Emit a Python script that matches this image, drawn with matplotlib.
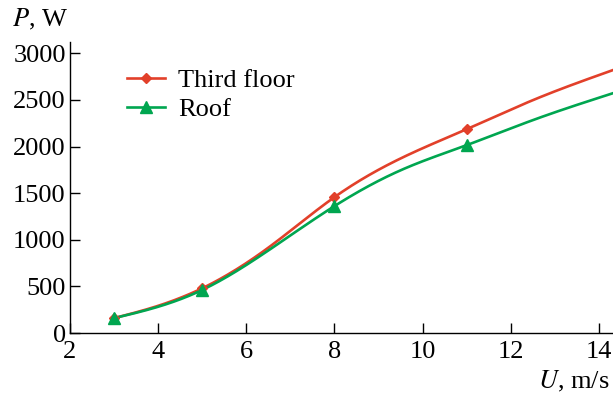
import numpy as np
import matplotlib
matplotlib.use("Agg")
import matplotlib.pyplot as plt

# data
u_marks = [3, 5, 8, 11]
p_third_marks = [160, 480, 1457, 2186]
p_roof_marks = [160, 462, 1361, 2015]

# points (the curves go on past the last marker)
u_curve = [3, 4, 5, 6.5, 8, 9.5, 11, 12.5, 14.32]
p_third_curve = [160, 292, 480, 915, 1457, 1872, 2186, 2497, 2820]
p_roof_curve = [160, 282, 462, 885, 1361, 1745, 2015, 2283, 2572]

x_ticks = [2, 4, 6, 8, 10, 12, 14]
y_ticks = [0, 500, 1000, 1500, 2000, 2500, 3000]


def spline(x, y, xs):
    # natural cubic spline, just for drawing a smooth line through the points
    x = np.asarray(x, float)
    y = np.asarray(y, float)
    n = len(x)
    h = np.diff(x)
    A = np.zeros((n, n))
    b = np.zeros(n)
    A[0, 0] = A[-1, -1] = 1
    for i in range(1, n - 1):
        A[i, i - 1] = h[i - 1]
        A[i, i] = 2 * (h[i - 1] + h[i])
        A[i, i + 1] = h[i]
        b[i] = 6 * ((y[i + 1] - y[i]) / h[i] - (y[i] - y[i - 1]) / h[i - 1])
    M = np.linalg.solve(A, b)
    k = np.clip(np.searchsorted(x, xs) - 1, 0, n - 2)
    t0 = x[k + 1] - xs
    t1 = xs - x[k]
    hk = h[k]
    return (M[k] * t0**3 / (6 * hk) + M[k + 1] * t1**3 / (6 * hk)
            + (y[k] / hk - M[k] * hk / 6) * t0
            + (y[k + 1] / hk - M[k + 1] * hk / 6) * t1)


plt.rcParams['font.family'] = ['Liberation Serif', 'DejaVu Serif']
plt.rcParams['mathtext.fontset'] = 'stix'

fig = plt.figure(figsize=(6.13, 3.97), dpi=100)
ax = fig.add_axes([0.114, 0.161, 0.886, 0.733])

red = '#e2402a'
green = '#00a650'
xs = np.linspace(u_curve[0], u_curve[-1], 400)

ax.plot(xs, spline(u_curve, p_third_curve, xs), color=red, lw=1.9)
ax.plot(xs, spline(u_curve, p_roof_curve, xs), color=green, lw=1.9)
ax.plot(u_marks, p_third_marks, 'D', color=red, ms=5)
ax.plot(u_marks, p_roof_marks, '^', color=green, ms=8)

# legend handles: line with marker
ax.plot([], [], color=red, lw=1.9, marker='D', ms=5, label='Third floor')
ax.plot([], [], color=green, lw=1.9, marker='^', ms=8, label='Roof')
ax.legend(loc='upper left', bbox_to_anchor=(0.085, 0.945), frameon=False,
          fontsize=19, handlelength=1.45, handletextpad=0.5, labelspacing=0.22,
          borderaxespad=0)

ax.set_xlim(2, 14.32)
ax.set_ylim(0, 3120)
ax.set_xticks(x_ticks)
ax.set_yticks(y_ticks)
ax.spines['top'].set_visible(False)
ax.spines['right'].set_visible(False)
for s in ('left', 'bottom'):
    ax.spines[s].set_linewidth(1.0)
ax.tick_params(direction='in', length=7, width=1.0, labelsize=19)
ax.tick_params(axis='y', pad=3)
ax.tick_params(axis='x', pad=6)

fig.text(0.02, 0.95, '$P$, W', fontsize=19, va='center')
fig.text(0.995, 0.04, '$U$, m/s', fontsize=19, ha='right', va='center')

fig.savefig('out.png', dpi=100)
plt.close()
